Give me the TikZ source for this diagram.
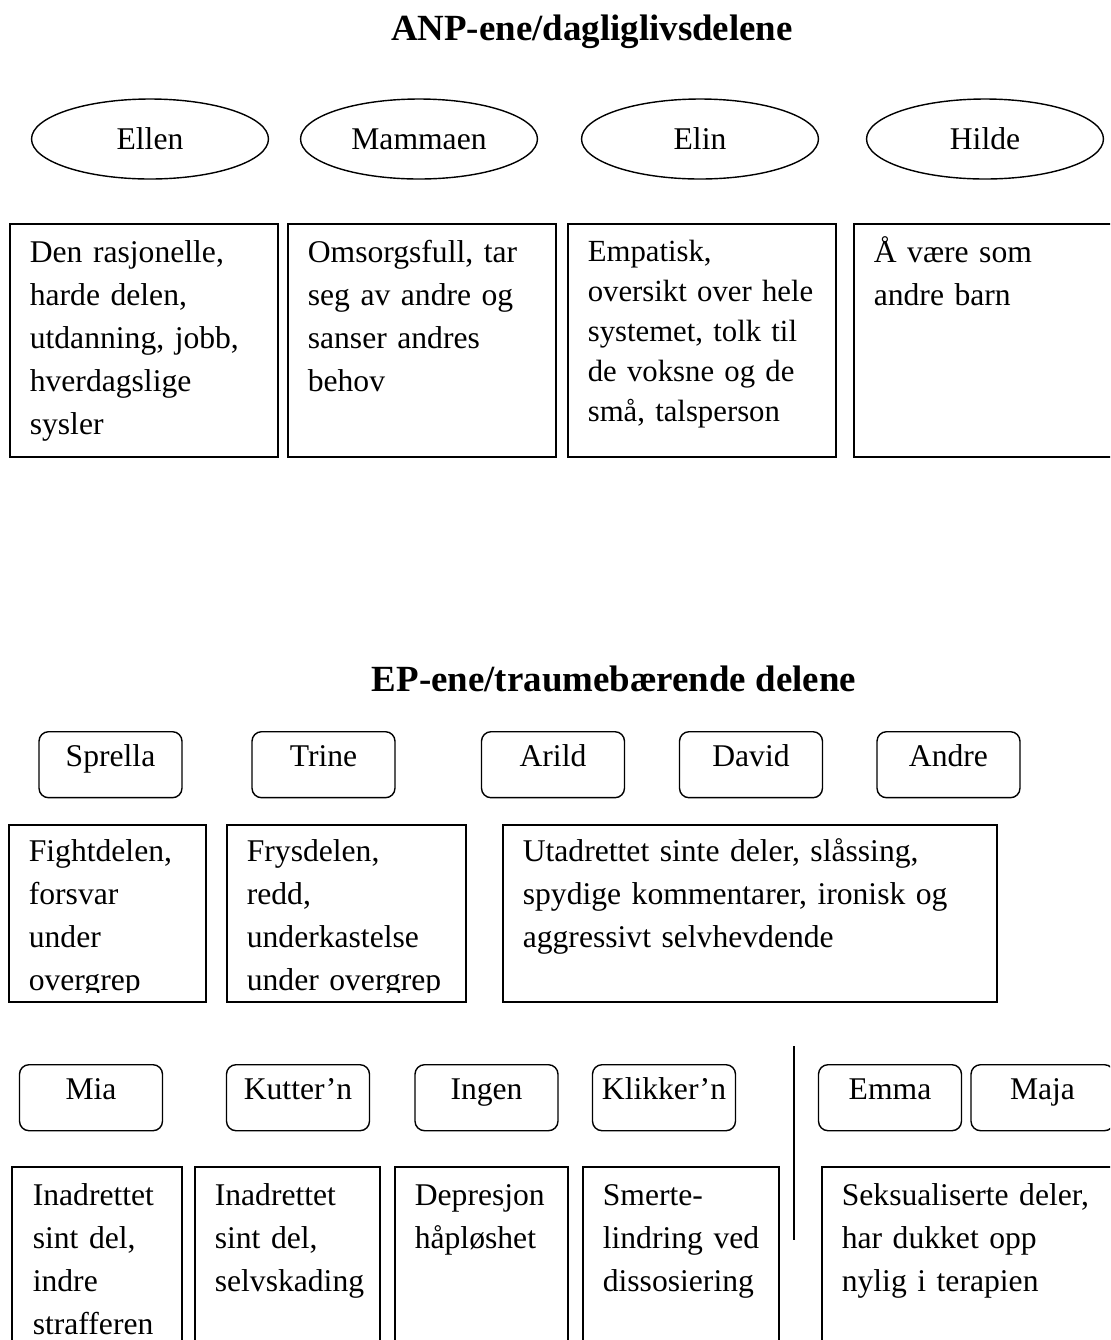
\documentclass[tikz,border=0pt]{standalone}
\usepackage{fontspec}
\setmainfont{Liberation Serif}
\usetikzlibrary{shapes.geometric,fit}

\begin{document}
\begin{tikzpicture}[x=0.02cm,y=-0.02cm,
  heading/.style={font=\bfseries\fontsize{21}{25}\selectfont,anchor=base,inner sep=0},
  anpname/.style={draw,ellipse,line width=0.8pt,minimum width=4.74cm,minimum height=1.6cm,inner sep=0,font=\fontsize{18}{24.5}\selectfont},
  partname/.style={draw,rounded corners=0.19cm,line width=0.8pt,anchor=north,minimum width=2.86cm,inner xsep=0,inner ysep=0,text height=0.7cm,text depth=0.62cm,font=\fontsize{18}{24.5}\selectfont},
  frame/.style={draw,line width=0.6pt,inner sep=0},
  desc/.style={anchor=base west,align=left,text width=9cm,inner sep=0,font=\fontsize{18}{24.5}\selectfont}]
\useasboundingbox (0,0) rectangle (1110,1340);
\clip (0,0) rectangle (1110,1340);

% ANP part
\node[heading] (anptitle) at (592,40) {ANP-ene/dagliglivsdelene};
\foreach \cx/\id/\who in {150/ellen/Ellen,419/mammaen/Mammaen,700/elin/Elin,985/hilde/Hilde}
  \node[anpname] (\id) at (\cx,139) {\who};

\node[frame,fit={(10,224) (278,457)}] (ellenbox) {};
\node[frame,fit={(288,224) (556,457)}] (mammaenbox) {};
\node[frame,fit={(568,224) (836,457)}] (elinbox) {};
\node[frame,fit={(854,224) (1125,457)}] (hildebox) {};
\node[desc] (ellentext) at ([shift={(20,39)}]ellenbox.north west) {Den rasjonelle,\\harde delen,\\utdanning, jobb,\\hverdagslige\\sysler};
\node[desc] (mammaentext) at ([shift={(20,39)}]mammaenbox.north west) {Omsorgsfull, tar\\seg av andre og\\sanser andres\\behov};
\node[desc,font=\fontsize{17.5}{22.8}\selectfont] (elintext) at ([shift={(20,38)}]elinbox.north west) {Empatisk,\\oversikt over hele\\systemet, tolk til\\de voksne og de\\små, talsperson};
\node[desc] (hildetext) at ([shift={(20,39)}]hildebox.north west) {Å være som\\andre barn};

% EP part
\node[heading] (eptitle) at (614,691) {EP-ene/traumebærende delene};
\foreach \cx/\id/\who in {110.5/sprella/Sprella,323.5/trine/Trine,553/arild/Arild,751/david/David,948.5/andre/Andre}
  \node[partname] (\id) at (\cx,731) {\who};

\node[frame,fit={(9,825) (206,1002)}] (fightbox) {};
\node[frame,fit={(227,825) (466,1002)}] (frysbox) {};
\node[frame,fit={(503,825) (997,1002)}] (utadbox) {};
\begin{scope}
\clip (0,800) rectangle (480,992);
\node[desc] (fighttext) at ([shift={(20,37)}]fightbox.north west) {Fightdelen,\\forsvar\\under\\overgrep};
\node[desc] (frystext) at ([shift={(20,37)}]frysbox.north west) {Frysdelen,\\redd,\\underkastelse\\under overgrep};
\end{scope}
\node[desc] (utadtext) at ([shift={(20,37)}]utadbox.north west) {Utadrettet sinte deler, slåssing,\\spydige kommentarer, ironisk og\\aggressivt selvhevdende};

\foreach \cx/\id/\who in {91/mia/Mia,298/kuttern/Kutter’n,486.5/ingen/Ingen,664/klikkern/Klikker’n,890/emma/Emma,1042.5/maja/Maja}
  \node[partname] (\id) at (\cx,1064) {\who};
\draw[line width=0.8pt] (794,1046) -- (794,1240);

\node[frame,fit={(12,1167) (182,1360)}] (miabox) {};
\node[frame,fit={(195,1167) (380,1360)}] (kutternbox) {};
\node[frame,fit={(395,1167) (568,1360)}] (ingenbox) {};
\node[frame,fit={(583,1167) (779,1360)}] (klikkernbox) {};
\node[frame,fit={(822,1167) (1125,1360)}] (sexbox) {};
\node[desc] (miatext) at ([shift={(21,39)}]miabox.north west) {Inadrettet\\sint del,\\indre\\strafferen};
\node[desc] (kutterntext) at ([shift={(20,39)}]kutternbox.north west) {Inadrettet\\sint del,\\selvskading};
\node[desc] (ingentext) at ([shift={(20,39)}]ingenbox.north west) {Depresjon\\håpløshet};
\node[desc] (klikkerntext) at ([shift={(20,39)}]klikkernbox.north west) {Smerte-\\lindring ved\\dissosiering};
\node[desc] (sextext) at ([shift={(20,39)}]sexbox.north west) {Seksualiserte deler,\\har dukket opp\\nylig i terapien};
\end{tikzpicture}
\end{document}
